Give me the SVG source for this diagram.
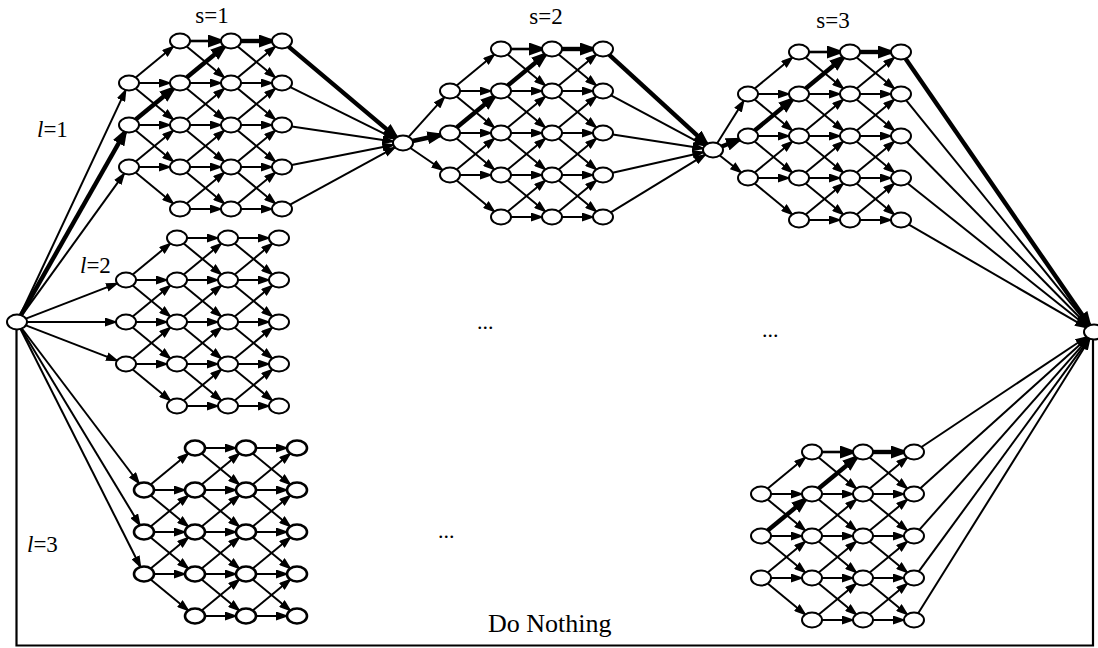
<svg xmlns="http://www.w3.org/2000/svg" xmlns:xlink="http://www.w3.org/1999/xlink" width="1098" height="648" viewBox="0 0 1098 648">
<style>
.n{fill:#fff;stroke:#000;stroke-width:2}
.nb{stroke-width:2.6}
.e{stroke:#000;stroke-width:2;fill:none;marker-end:url(#ah)}
.t{stroke:#000;stroke-width:4.4;fill:none;marker-end:url(#ahb)}
.lbl{font-family:"Liberation Serif","Times New Roman",serif;font-size:23px;fill:#000}
</style>
<defs>
<marker id="ah" viewBox="0 0 13 9" refX="11" refY="4.5" markerWidth="13" markerHeight="9" markerUnits="userSpaceOnUse" orient="auto"><path d="M0,0 L13,4.5 L0,9 z" fill="#000"/></marker>
<marker id="ahb" viewBox="0 0 18 13" refX="13" refY="6.5" markerWidth="18" markerHeight="13" markerUnits="userSpaceOnUse" orient="auto"><path d="M0,0 L18,6.5 L0,13 z" fill="#000"/></marker>
<g id="grid" stroke="#000" stroke-width="2" fill="none" marker-end="url(#ah)">
<line x1="10" y1="42" x2="41" y2="42"/>
<line x1="6.7" y1="36.5" x2="44.3" y2="5.5"/>
<line x1="6.7" y1="47.5" x2="44.3" y2="78.5"/>
<line x1="10" y1="84" x2="41" y2="84"/>
<line x1="6.7" y1="78.5" x2="44.3" y2="47.5"/>
<line x1="6.7" y1="89.5" x2="44.3" y2="120.5"/>
<line x1="10" y1="126" x2="41" y2="126"/>
<line x1="6.7" y1="120.5" x2="44.3" y2="89.5"/>
<line x1="6.7" y1="131.5" x2="44.3" y2="162.5"/>
<line x1="61" y1="0" x2="92" y2="0"/>
<line x1="57.7" y1="5.5" x2="95.3" y2="36.5"/>
<line x1="61" y1="42" x2="92" y2="42"/>
<line x1="57.7" y1="36.5" x2="95.3" y2="5.5"/>
<line x1="57.7" y1="47.5" x2="95.3" y2="78.5"/>
<line x1="61" y1="84" x2="92" y2="84"/>
<line x1="57.7" y1="78.5" x2="95.3" y2="47.5"/>
<line x1="57.7" y1="89.5" x2="95.3" y2="120.5"/>
<line x1="61" y1="126" x2="92" y2="126"/>
<line x1="57.7" y1="120.5" x2="95.3" y2="89.5"/>
<line x1="57.7" y1="131.5" x2="95.3" y2="162.5"/>
<line x1="61" y1="168" x2="92" y2="168"/>
<line x1="57.7" y1="162.5" x2="95.3" y2="131.5"/>
<line x1="112" y1="0" x2="143" y2="0"/>
<line x1="108.7" y1="5.5" x2="146.3" y2="36.5"/>
<line x1="112" y1="42" x2="143" y2="42"/>
<line x1="108.7" y1="36.5" x2="146.3" y2="5.5"/>
<line x1="108.7" y1="47.5" x2="146.3" y2="78.5"/>
<line x1="112" y1="84" x2="143" y2="84"/>
<line x1="108.7" y1="78.5" x2="146.3" y2="47.5"/>
<line x1="108.7" y1="89.5" x2="146.3" y2="120.5"/>
<line x1="112" y1="126" x2="143" y2="126"/>
<line x1="108.7" y1="120.5" x2="146.3" y2="89.5"/>
<line x1="108.7" y1="131.5" x2="146.3" y2="162.5"/>
<line x1="112" y1="168" x2="143" y2="168"/>
<line x1="108.7" y1="162.5" x2="146.3" y2="131.5"/>
</g>
<g id="hl" stroke="#000" fill="none" marker-end="url(#ahb)">
<line x1="6.7" y1="78.5" x2="44.3" y2="47.5" stroke-width="4.4"/>
<line x1="57.7" y1="36.5" x2="95.3" y2="5.5" stroke-width="4.4"/>
<line x1="61" y1="0" x2="92" y2="0" stroke-width="2.6"/>
<line x1="112" y1="0" x2="143" y2="0" stroke-width="4.4"/>
</g>
</defs>
<rect width="1098" height="648" fill="#fff"/>

<g id="connectors">
<use xlink:href="#grid" transform="translate(129,41)"/>
<use xlink:href="#grid" transform="translate(450,49)"/>
<use xlink:href="#grid" transform="translate(748,52)"/>
<use xlink:href="#grid" transform="translate(126,238)"/>
<use xlink:href="#grid" transform="translate(144,448)"/>
<use xlink:href="#grid" transform="translate(761,452)"/>
<use xlink:href="#hl" transform="translate(129,41)"/>
<use xlink:href="#hl" transform="translate(450,49)"/>
<use xlink:href="#hl" transform="translate(748,52)"/>
<use xlink:href="#hl" transform="translate(761,452)"/>
<!-- source to l=1 -->
<line class="e" x1="20.3" y1="314.9" x2="125.7" y2="90.1"/>
<line class="t" x1="20.9" y1="315.1" x2="125.1" y2="131.9"/>
<line class="e" x1="21.8" y1="315.4" x2="124.2" y2="173.6"/>
<!-- source to l=2 -->
<line class="e" x1="25.9" y1="318.6" x2="117.1" y2="283.4"/>
<line class="e" x1="27" y1="322" x2="116" y2="322"/>
<line class="e" x1="25.9" y1="325.4" x2="117.1" y2="360.6"/>
<!-- source to l=3 -->
<line class="e" x1="21.9" y1="328.5" x2="139.1" y2="483.5"/>
<line class="e" x1="21.1" y1="328.8" x2="139.9" y2="525.2"/>
<line class="e" x1="20.5" y1="329" x2="140.5" y2="567"/>
<!-- s=1 to junction 1 -->
<line class="t" x1="288.6" y1="46.6" x2="396.3" y2="137.4"/>
<line class="e" x1="290.3" y1="87.1" x2="394.7" y2="138.9"/>
<line class="e" x1="291.8" y1="126.5" x2="393.2" y2="141.5"/>
<line class="e" x1="291.7" y1="165.1" x2="393.3" y2="144.9"/>
<line class="e" x1="290.1" y1="204.6" x2="394.9" y2="147.4"/>
<!-- junction 1 to s=2 -->
<line class="e" x1="408.6" y1="136.8" x2="444.4" y2="97.2"/>
<line class="t" x1="412.6" y1="141" x2="440.4" y2="135"/>
<line class="e" x1="410.4" y1="148" x2="442.6" y2="170"/>
<!-- s=2 to junction 2 -->
<line class="t" x1="609.3" y1="54.8" x2="706.7" y2="144.2"/>
<line class="e" x1="611.1" y1="95.4" x2="704.9" y2="145.6"/>
<line class="e" x1="612.8" y1="134.5" x2="703.2" y2="148.5"/>
<line class="e" x1="612.6" y1="172.8" x2="703.4" y2="152.2"/>
<line class="e" x1="610.8" y1="212.3" x2="705.2" y2="154.7"/>
<!-- junction 2 to s=3 -->
<line class="e" x1="717.2" y1="143.2" x2="743.8" y2="100.8"/>
<line class="t" x1="721.8" y1="146.5" x2="739.2" y2="139.5"/>
<line class="e" x1="719.8" y1="155.5" x2="741.2" y2="172.5"/>
<!-- s=3 to final -->
<line class="t" x1="905.6" y1="58.7" x2="1089.4" y2="325.3"/>
<line class="e" x1="906.2" y1="100.4" x2="1088.8" y2="325.6"/>
<line class="e" x1="906.9" y1="142" x2="1088.1" y2="326"/>
<line class="e" x1="907.8" y1="183.5" x2="1087.2" y2="326.5"/>
<line class="e" x1="908.9" y1="224.6" x2="1086.1" y2="327.4"/>
<!-- bottom-right block to final -->
<line class="e" x1="921.5" y1="447" x2="1086.5" y2="337"/>
<line class="e" x1="920.4" y1="488.2" x2="1087.6" y2="337.8"/>
<line class="e" x1="919.5" y1="529.7" x2="1088.5" y2="338.3"/>
<line class="e" x1="918.8" y1="571.4" x2="1089.2" y2="338.6"/>
<line class="e" x1="918.2" y1="613.2" x2="1089.8" y2="338.8"/>
<!-- do nothing -->
<polyline points="16.5,329 16.5,645.5 1093,645.5 1093,339" fill="none" stroke="#000" stroke-width="2.2"/>
</g>

<g id="nodes">
<g id="src"><ellipse class="n" cx="17" cy="322" rx="10" ry="7.5"/></g>
<g id="j1"><ellipse class="n" cx="403" cy="143" rx="10" ry="7.5"/></g>
<g id="j2"><ellipse class="n" cx="713" cy="150" rx="10" ry="7.5"/></g>
<g id="sink"><ellipse class="n" cx="1094" cy="332" rx="10" ry="7.5"/></g>

<g id="a01"><ellipse class="n" cx="129" cy="83" rx="10" ry="7.5"/></g>
<g id="a02"><ellipse class="n" cx="129" cy="125" rx="10" ry="7.5"/></g>
<g id="a03"><ellipse class="n" cx="129" cy="167" rx="10" ry="7.5"/></g>
<g id="a10"><ellipse class="n" cx="180" cy="41" rx="10" ry="7.5"/></g>
<g id="a11"><ellipse class="n" cx="180" cy="83" rx="10" ry="7.5"/></g>
<g id="a12"><ellipse class="n" cx="180" cy="125" rx="10" ry="7.5"/></g>
<g id="a13"><ellipse class="n" cx="180" cy="167" rx="10" ry="7.5"/></g>
<g id="a14"><ellipse class="n" cx="180" cy="209" rx="10" ry="7.5"/></g>
<g id="a20"><ellipse class="n" cx="231" cy="41" rx="10" ry="7.5"/></g>
<g id="a21"><ellipse class="n" cx="231" cy="83" rx="10" ry="7.5"/></g>
<g id="a22"><ellipse class="n" cx="231" cy="125" rx="10" ry="7.5"/></g>
<g id="a23"><ellipse class="n" cx="231" cy="167" rx="10" ry="7.5"/></g>
<g id="a24"><ellipse class="n" cx="231" cy="209" rx="10" ry="7.5"/></g>
<g id="a30"><ellipse class="n" cx="282" cy="41" rx="10" ry="7.5"/></g>
<g id="a31"><ellipse class="n" cx="282" cy="83" rx="10" ry="7.5"/></g>
<g id="a32"><ellipse class="n" cx="282" cy="125" rx="10" ry="7.5"/></g>
<g id="a33"><ellipse class="n" cx="282" cy="167" rx="10" ry="7.5"/></g>
<g id="a34"><ellipse class="n" cx="282" cy="209" rx="10" ry="7.5"/></g>

<g id="b01"><ellipse class="n" cx="450" cy="91" rx="10" ry="7.5"/></g>
<g id="b02"><ellipse class="n" cx="450" cy="133" rx="10" ry="7.5"/></g>
<g id="b03"><ellipse class="n" cx="450" cy="175" rx="10" ry="7.5"/></g>
<g id="b10"><ellipse class="n" cx="501" cy="49" rx="10" ry="7.5"/></g>
<g id="b11"><ellipse class="n" cx="501" cy="91" rx="10" ry="7.5"/></g>
<g id="b12"><ellipse class="n" cx="501" cy="133" rx="10" ry="7.5"/></g>
<g id="b13"><ellipse class="n" cx="501" cy="175" rx="10" ry="7.5"/></g>
<g id="b14"><ellipse class="n" cx="501" cy="217" rx="10" ry="7.5"/></g>
<g id="b20"><ellipse class="n" cx="552" cy="49" rx="10" ry="7.5"/></g>
<g id="b21"><ellipse class="n" cx="552" cy="91" rx="10" ry="7.5"/></g>
<g id="b22"><ellipse class="n" cx="552" cy="133" rx="10" ry="7.5"/></g>
<g id="b23"><ellipse class="n" cx="552" cy="175" rx="10" ry="7.5"/></g>
<g id="b24"><ellipse class="n" cx="552" cy="217" rx="10" ry="7.5"/></g>
<g id="b30"><ellipse class="n" cx="603" cy="49" rx="10" ry="7.5"/></g>
<g id="b31"><ellipse class="n" cx="603" cy="91" rx="10" ry="7.5"/></g>
<g id="b32"><ellipse class="n" cx="603" cy="133" rx="10" ry="7.5"/></g>
<g id="b33"><ellipse class="n" cx="603" cy="175" rx="10" ry="7.5"/></g>
<g id="b34"><ellipse class="n" cx="603" cy="217" rx="10" ry="7.5"/></g>

<g id="c01"><ellipse class="n" cx="748" cy="94" rx="10" ry="7.5"/></g>
<g id="c02"><ellipse class="n" cx="748" cy="136" rx="10" ry="7.5"/></g>
<g id="c03"><ellipse class="n" cx="748" cy="178" rx="10" ry="7.5"/></g>
<g id="c10"><ellipse class="n" cx="799" cy="52" rx="10" ry="7.5"/></g>
<g id="c11"><ellipse class="n" cx="799" cy="94" rx="10" ry="7.5"/></g>
<g id="c12"><ellipse class="n" cx="799" cy="136" rx="10" ry="7.5"/></g>
<g id="c13"><ellipse class="n" cx="799" cy="178" rx="10" ry="7.5"/></g>
<g id="c14"><ellipse class="n" cx="799" cy="220" rx="10" ry="7.5"/></g>
<g id="c20"><ellipse class="n" cx="850" cy="52" rx="10" ry="7.5"/></g>
<g id="c21"><ellipse class="n" cx="850" cy="94" rx="10" ry="7.5"/></g>
<g id="c22"><ellipse class="n" cx="850" cy="136" rx="10" ry="7.5"/></g>
<g id="c23"><ellipse class="n" cx="850" cy="178" rx="10" ry="7.5"/></g>
<g id="c24"><ellipse class="n" cx="850" cy="220" rx="10" ry="7.5"/></g>
<g id="c30"><ellipse class="n" cx="901" cy="52" rx="10" ry="7.5"/></g>
<g id="c31"><ellipse class="n" cx="901" cy="94" rx="10" ry="7.5"/></g>
<g id="c32"><ellipse class="n" cx="901" cy="136" rx="10" ry="7.5"/></g>
<g id="c33"><ellipse class="n" cx="901" cy="178" rx="10" ry="7.5"/></g>
<g id="c34"><ellipse class="n" cx="901" cy="220" rx="10" ry="7.5"/></g>

<g id="d01"><ellipse class="n" cx="126" cy="280" rx="10" ry="7.5"/></g>
<g id="d02"><ellipse class="n" cx="126" cy="322" rx="10" ry="7.5"/></g>
<g id="d03"><ellipse class="n" cx="126" cy="364" rx="10" ry="7.5"/></g>
<g id="d10"><ellipse class="n" cx="177" cy="238" rx="10" ry="7.5"/></g>
<g id="d11"><ellipse class="n" cx="177" cy="280" rx="10" ry="7.5"/></g>
<g id="d12"><ellipse class="n" cx="177" cy="322" rx="10" ry="7.5"/></g>
<g id="d13"><ellipse class="n" cx="177" cy="364" rx="10" ry="7.5"/></g>
<g id="d14"><ellipse class="n" cx="177" cy="406" rx="10" ry="7.5"/></g>
<g id="d20"><ellipse class="n" cx="228" cy="238" rx="10" ry="7.5"/></g>
<g id="d21"><ellipse class="n" cx="228" cy="280" rx="10" ry="7.5"/></g>
<g id="d22"><ellipse class="n" cx="228" cy="322" rx="10" ry="7.5"/></g>
<g id="d23"><ellipse class="n" cx="228" cy="364" rx="10" ry="7.5"/></g>
<g id="d24"><ellipse class="n" cx="228" cy="406" rx="10" ry="7.5"/></g>
<g id="d30"><ellipse class="n" cx="279" cy="238" rx="10" ry="7.5"/></g>
<g id="d31"><ellipse class="n" cx="279" cy="280" rx="10" ry="7.5"/></g>
<g id="d32"><ellipse class="n" cx="279" cy="322" rx="10" ry="7.5"/></g>
<g id="d33"><ellipse class="n" cx="279" cy="364" rx="10" ry="7.5"/></g>
<g id="d34"><ellipse class="n" cx="279" cy="406" rx="10" ry="7.5"/></g>

<g id="e01"><ellipse class="n nb" cx="144" cy="490" rx="10" ry="7.5"/></g>
<g id="e02"><ellipse class="n nb" cx="144" cy="532" rx="10" ry="7.5"/></g>
<g id="e03"><ellipse class="n nb" cx="144" cy="574" rx="10" ry="7.5"/></g>
<g id="e10"><ellipse class="n nb" cx="195" cy="448" rx="10" ry="7.5"/></g>
<g id="e11"><ellipse class="n nb" cx="195" cy="490" rx="10" ry="7.5"/></g>
<g id="e12"><ellipse class="n nb" cx="195" cy="532" rx="10" ry="7.5"/></g>
<g id="e13"><ellipse class="n nb" cx="195" cy="574" rx="10" ry="7.5"/></g>
<g id="e14"><ellipse class="n nb" cx="195" cy="616" rx="10" ry="7.5"/></g>
<g id="e20"><ellipse class="n nb" cx="246" cy="448" rx="10" ry="7.5"/></g>
<g id="e21"><ellipse class="n nb" cx="246" cy="490" rx="10" ry="7.5"/></g>
<g id="e22"><ellipse class="n nb" cx="246" cy="532" rx="10" ry="7.5"/></g>
<g id="e23"><ellipse class="n nb" cx="246" cy="574" rx="10" ry="7.5"/></g>
<g id="e24"><ellipse class="n nb" cx="246" cy="616" rx="10" ry="7.5"/></g>
<g id="e30"><ellipse class="n nb" cx="297" cy="448" rx="10" ry="7.5"/></g>
<g id="e31"><ellipse class="n nb" cx="297" cy="490" rx="10" ry="7.5"/></g>
<g id="e32"><ellipse class="n nb" cx="297" cy="532" rx="10" ry="7.5"/></g>
<g id="e33"><ellipse class="n nb" cx="297" cy="574" rx="10" ry="7.5"/></g>
<g id="e34"><ellipse class="n nb" cx="297" cy="616" rx="10" ry="7.5"/></g>

<g id="f01"><ellipse class="n" cx="761" cy="494" rx="10" ry="7.5"/></g>
<g id="f02"><ellipse class="n" cx="761" cy="536" rx="10" ry="7.5"/></g>
<g id="f03"><ellipse class="n" cx="761" cy="578" rx="10" ry="7.5"/></g>
<g id="f10"><ellipse class="n" cx="812" cy="452" rx="10" ry="7.5"/></g>
<g id="f11"><ellipse class="n" cx="812" cy="494" rx="10" ry="7.5"/></g>
<g id="f12"><ellipse class="n" cx="812" cy="536" rx="10" ry="7.5"/></g>
<g id="f13"><ellipse class="n" cx="812" cy="578" rx="10" ry="7.5"/></g>
<g id="f14"><ellipse class="n" cx="812" cy="620" rx="10" ry="7.5"/></g>
<g id="f20"><ellipse class="n" cx="863" cy="452" rx="10" ry="7.5"/></g>
<g id="f21"><ellipse class="n" cx="863" cy="494" rx="10" ry="7.5"/></g>
<g id="f22"><ellipse class="n" cx="863" cy="536" rx="10" ry="7.5"/></g>
<g id="f23"><ellipse class="n" cx="863" cy="578" rx="10" ry="7.5"/></g>
<g id="f24"><ellipse class="n" cx="863" cy="620" rx="10" ry="7.5"/></g>
<g id="f30"><ellipse class="n" cx="914" cy="452" rx="10" ry="7.5"/></g>
<g id="f31"><ellipse class="n" cx="914" cy="494" rx="10" ry="7.5"/></g>
<g id="f32"><ellipse class="n" cx="914" cy="536" rx="10" ry="7.5"/></g>
<g id="f33"><ellipse class="n" cx="914" cy="578" rx="10" ry="7.5"/></g>
<g id="f34"><ellipse class="n" cx="914" cy="620" rx="10" ry="7.5"/></g>
</g>

<g id="labels" class="lbl">
<text x="212" y="23" text-anchor="middle">s=1</text>
<text x="546" y="24" text-anchor="middle">s=2</text>
<text x="833" y="28" text-anchor="middle">s=3</text>
<text x="37" y="137"><tspan font-style="italic">l</tspan>=1</text>
<text x="80" y="273"><tspan font-style="italic">l</tspan>=2</text>
<text x="27" y="552"><tspan font-style="italic">l</tspan>=3</text>
<text x="477" y="329" font-size="22">...</text>
<text x="762" y="337" font-size="22">...</text>
<text x="438" y="538" font-size="22">...</text>
<text x="488" y="632" font-size="26">Do Nothing</text>
</g>
</svg>
